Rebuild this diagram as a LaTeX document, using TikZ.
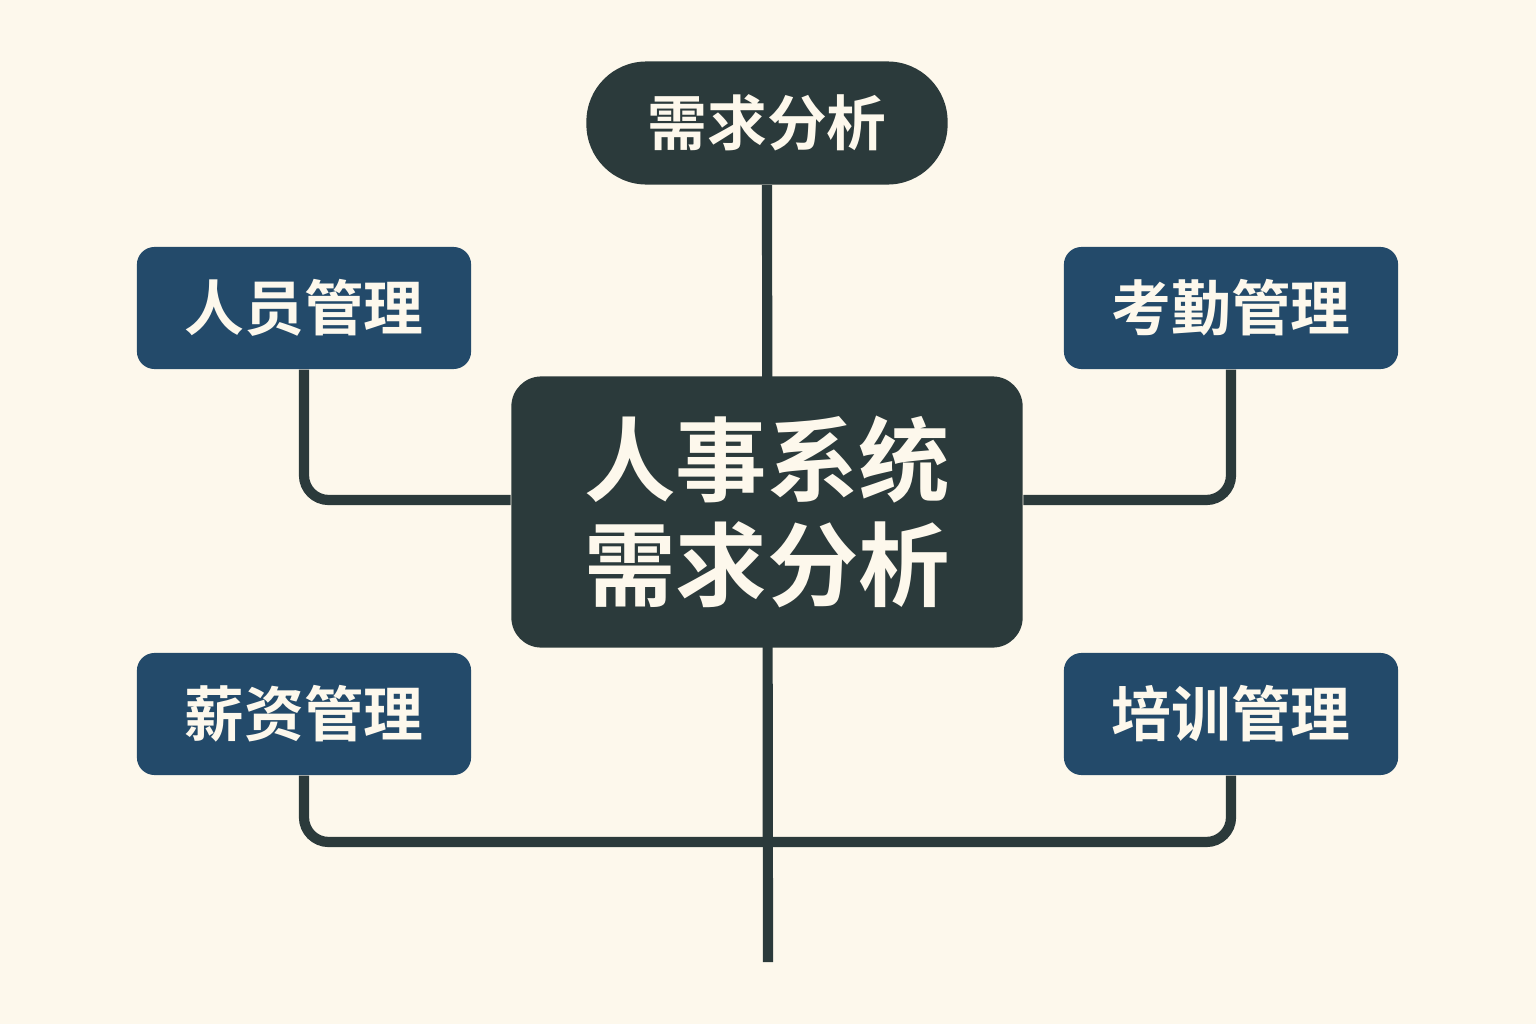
\documentclass[tikz,border=0pt]{standalone}
\usepackage{fontspec}
\setmainfont{Noto Sans CJK SC}[BoldFont={Noto Sans CJK SC Bold}]
\usepackage{xcolor}
\usetikzlibrary{positioning, backgrounds, calc}
\definecolor{cream}{HTML}{FDF8EC}
\definecolor{slate}{HTML}{2B3A3B}
\definecolor{navy}{HTML}{234A6A}

\tikzset{
  module/.style={fill=navy, text=cream, rounded corners=5pt,
    minimum width=3.34cm, minimum height=1.22cm, inner sep=0pt,
    font=\fontsize{17}{20}\selectfont\bfseries},
  link/.style={draw=slate, line width=2.9pt, rounded corners=7pt}
}

\begin{document}
\begin{tikzpicture}[x=0.01cm, y=-0.01cm]
    \useasboundingbox (0,0) rectangle (1536,1024);

    % top and centre
    \node[fill=slate, text=cream, rounded corners=0.6cm,
          minimum width=3.61cm, minimum height=1.23cm, inner sep=0pt,
          font=\fontsize{17}{20}\selectfont\bfseries] (top) at (767,123) {需求分析};
    \node[fill=slate, text=cream, rounded corners=0.3cm, align=center,
          minimum width=5.11cm, minimum height=2.71cm, inner sep=0pt,
          font=\fontsize{26}{30}\selectfont\bfseries] (hub) at (767,512) {人事系统\\需求分析};

    % modules
    \node[module] (staff) at (304,308) {人员管理};
    \node[module] (attend) at (1231,308) {考勤管理};
    \node[module] (salary) at (304,714) {薪资管理};
    \node[module] (train) at (1231,714) {培训管理};

    \coordinate (tail) at (768,962);
    \coordinate (bus) at (768,842);

    \begin{scope}[on background layer]
      \fill[cream] (0,0) rectangle (1536,1024);
      \draw[link] (top.south) -- (tail);
      \draw[link] (staff.south) |- ([yshift=0.12cm]hub.west);
      \draw[link] (attend.south) |- ([yshift=0.12cm]hub.east);
      \draw[link] (salary.south) |- (bus) -| (train.south);
    \end{scope}
\end{tikzpicture}
\end{document}
